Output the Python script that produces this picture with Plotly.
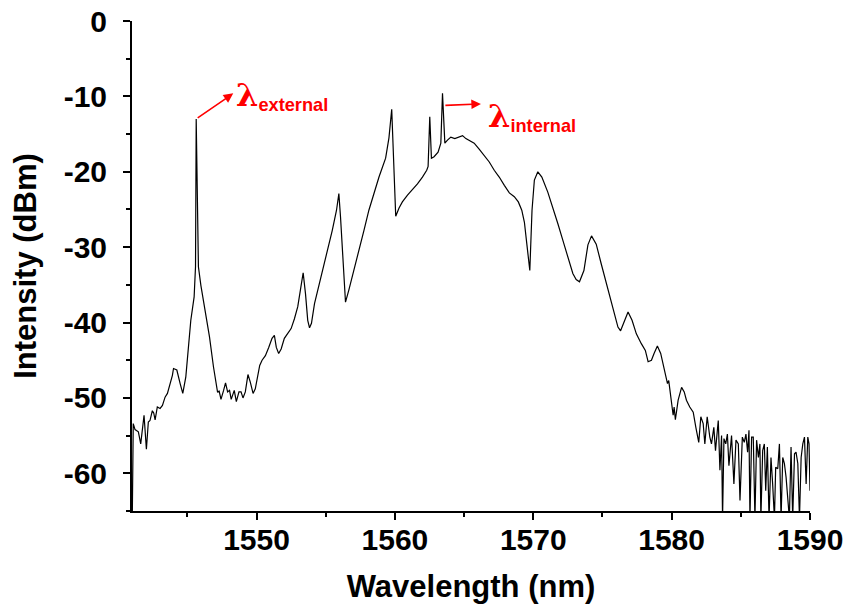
import plotly.graph_objects as go

# Measured optical spectrum: wavelength (nm) and intensity (dBm)
wavelength = [
    1541.02, 1541.09, 1541.22, 1541.46, 1541.63, 1541.87, 1542.04, 1542.18, 1542.30, 1542.47,
    1542.57, 1542.67, 1542.83, 1543.03, 1543.20, 1543.39, 1543.56, 1543.75, 1543.92, 1544.00,
    1544.24, 1544.48, 1544.67, 1544.89, 1545.08, 1545.25, 1545.49, 1545.59, 1545.64, 1545.80,
    1545.98, 1546.29, 1546.60, 1546.89, 1547.18, 1547.30, 1547.43, 1547.62, 1547.76, 1547.91,
    1548.05, 1548.17, 1548.39, 1548.54, 1548.73, 1548.88, 1549.02, 1549.19, 1549.38, 1549.55,
    1549.75, 1549.91, 1550.08, 1550.23, 1550.40, 1550.64, 1550.88, 1551.12, 1551.29, 1551.43,
    1551.60, 1551.78, 1552.01, 1552.25, 1552.50, 1552.74, 1552.98, 1553.17, 1553.37, 1553.54,
    1553.70, 1553.83, 1553.97, 1554.19, 1554.43, 1554.75, 1555.11, 1555.47, 1555.78, 1555.95,
    1556.07, 1556.27, 1556.43, 1556.67, 1557.04, 1557.40, 1557.76, 1558.12, 1558.37, 1558.85,
    1559.33, 1559.57, 1559.77, 1560.06, 1560.30, 1560.54, 1560.91, 1561.27, 1561.63, 1561.99,
    1562.30, 1562.40, 1562.52, 1562.64, 1562.83, 1563.12, 1563.32, 1563.44, 1563.61, 1563.80,
    1564.04, 1564.33, 1564.64, 1564.89, 1565.13, 1565.44, 1565.73, 1566.09, 1566.46, 1566.82,
    1567.18, 1567.54, 1567.91, 1568.27, 1568.63, 1568.92, 1569.17, 1569.36, 1569.53, 1569.75,
    1569.91, 1570.08, 1570.33, 1570.62, 1571.05, 1571.41, 1571.78, 1572.14, 1572.50, 1572.86,
    1573.10, 1573.34, 1573.66, 1573.95, 1574.21, 1574.55, 1574.91, 1575.35, 1575.76, 1576.12,
    1576.31, 1576.56, 1576.85, 1577.14, 1577.45, 1577.81, 1578.10, 1578.30, 1578.54, 1578.73,
    1578.97, 1579.21, 1579.50, 1579.70, 1579.79, 1579.93, 1580.11, 1580.18, 1580.27, 1580.47,
    1580.72, 1580.91, 1581.07, 1581.31, 1581.56, 1581.75, 1581.96, 1582.11, 1582.28, 1582.40,
    1582.57, 1582.76, 1582.88, 1583.05, 1583.17, 1583.37, 1583.49, 1583.61, 1583.68, 1583.78,
    1583.91, 1584.03, 1584.14, 1584.33, 1584.50, 1584.65, 1584.82, 1584.94, 1585.11, 1585.25,
    1585.37, 1585.49, 1585.59, 1585.66, 1585.78, 1585.90, 1586.02, 1586.14, 1586.27, 1586.38,
    1586.45, 1586.58, 1586.70, 1586.80, 1586.92, 1587.04, 1587.18, 1587.30, 1587.43, 1587.52,
    1587.67, 1587.79, 1587.91, 1588.03, 1588.15, 1588.27, 1588.39, 1588.51, 1588.63, 1588.75,
    1588.88, 1588.99, 1589.12, 1589.24, 1589.36, 1589.48, 1589.60, 1589.72, 1589.84, 1589.93,
    1590.00,
]

intensity = [
    -66.0, -53.4, -54.2, -54.5, -56.1, -52.3, -56.8, -53.2, -53.0, -51.7,
    -52.0, -52.9, -51.2, -51.4, -51.0, -49.9, -49.4, -48.3, -47.0, -46.1,
    -46.3, -48.1, -49.4, -47.2, -42.8, -39.7, -36.6, -32.6, -13.0, -32.6,
    -35.1, -38.4, -41.9, -45.9, -49.2, -49.1, -50.2, -49.0, -48.0, -49.2,
    -49.0, -50.2, -49.0, -50.5, -49.2, -49.2, -50.0, -49.2, -46.9, -47.9,
    -49.4, -48.8, -47.0, -45.7, -45.0, -44.4, -43.3, -42.1, -41.7, -43.3,
    -44.1, -43.5, -42.1, -41.5, -40.8, -39.5, -37.9, -35.7, -33.4, -36.2,
    -39.7, -40.7, -40.1, -37.5, -35.7, -33.1, -30.4, -27.8, -25.1, -22.9,
    -26.0, -32.6, -37.3, -35.7, -33.1, -30.4, -27.8, -25.1, -23.5, -20.7,
    -18.2, -15.5, -11.7, -25.9, -24.8, -24.0, -23.1, -22.4, -21.6, -20.7,
    -19.8, -19.3, -12.7, -18.2, -18.0, -17.4, -16.2, -9.6, -16.2, -15.8,
    -15.4, -15.6, -15.4, -15.2, -15.6, -15.9, -16.2, -17.0, -17.8, -18.7,
    -19.8, -20.7, -21.8, -22.8, -23.3, -24.0, -25.1, -26.7, -29.5, -33.1,
    -25.1, -21.1, -20.0, -20.7, -22.7, -24.7, -26.9, -29.1, -31.3, -33.5,
    -34.3, -34.6, -33.1, -29.7, -28.5, -29.6, -32.2, -35.3, -38.2, -40.6,
    -41.1, -39.9, -38.6, -39.7, -41.5, -42.8, -43.7, -45.2, -45.0, -44.1,
    -43.1, -44.1, -46.3, -48.1, -47.7, -49.9, -52.3, -51.2, -52.9, -50.3,
    -48.6, -49.2, -50.3, -51.2, -51.9, -53.9, -55.9, -52.5, -53.4, -56.1,
    -52.5, -55.2, -56.1, -53.9, -57.0, -53.0, -59.6, -55.0, -66.0, -55.4,
    -56.1, -54.8, -59.0, -55.0, -61.4, -55.6, -56.1, -63.6, -55.2, -55.9,
    -54.8, -57.2, -54.3, -66.0, -55.2, -55.2, -66.0, -55.6, -57.9, -56.1,
    -66.0, -57.0, -56.1, -62.3, -56.5, -66.0, -57.9, -61.4, -66.0, -59.2,
    -59.4, -56.1, -66.0, -57.9, -58.7, -60.5, -63.2, -66.0, -56.5, -66.0,
    -57.4, -57.2, -58.7, -66.0, -57.9, -56.1, -55.2, -61.4, -55.2, -56.1,
    -62.3,
]

# Axis tick labels
x_ticks = [1550, 1560, 1570, 1580, 1590]
y_ticks = [0, -10, -20, -30, -40, -50, -60]
y_tick_text = ["0", "-10", "-20", "-30", "-40", "-50", "-60"]

# Lasing lines marked on the spectrum
external_peak = (1545.64, -13.0)
internal_peak = (1563.44, -9.6)

FONT = "Liberation Sans, Arial, sans-serif"
RED = "#ff0000"

fig = go.Figure()
fig.add_trace(go.Scatter(
    x=wavelength, y=intensity, mode="lines",
    line=dict(color="black", width=1.2),
    showlegend=False, hoverinfo="skip",
))

axis_common = dict(
    showline=True, linecolor="black", linewidth=2,
    ticks="outside", ticklen=7, tickwidth=1.5, tickcolor="black",
    showgrid=False, zeroline=False, mirror=False,
)
tick_font = dict(family=FONT, size=30, color="black", weight="bold")
title_font = dict(family=FONT, size=31, color="black", weight="bold")

fig.update_xaxes(
    range=[1541, 1590], tickvals=x_ticks, ticktext=[str(v) for v in x_ticks],
    minor=dict(ticks="outside", ticklen=4, tickwidth=1.5, tickcolor="black", dtick=5, tick0=1540),
    tickfont=tick_font, ticklabelstandoff=-6,
    title=dict(text="Wavelength (nm)", font=title_font, standoff=20),
    automargin="height",
    **axis_common,
)
fig.update_yaxes(
    range=[-65, 0], tickvals=y_ticks, ticktext=y_tick_text,
    minor=dict(ticks="outside", ticklen=4, tickwidth=1.5, tickcolor="black", dtick=5, tick0=0),
    tickfont=tick_font, ticklabelstandoff=10,
    title=dict(text="Intensity (dBm)", font=title_font, standoff=18),
    automargin="width",
    **axis_common,
)

# Arrows pointing from each lasing line toward its label
fig.add_annotation(
    x=1548.32, y=-9.6, ax=external_peak[0], ay=external_peak[1],
    xref="x", yref="y", axref="x", ayref="y", text="",
    showarrow=True, arrowhead=2, arrowsize=1.2, arrowwidth=1.6, arrowcolor=RED,
)
fig.add_annotation(
    x=1566.22, y=-11.0, ax=internal_peak[0] + 0.1, ay=-11.2,
    xref="x", yref="y", axref="x", ayref="y", text="",
    showarrow=True, arrowhead=2, arrowsize=1.2, arrowwidth=1.6, arrowcolor=RED,
)

LAMBDA = '<span style="font-family:DejaVu Serif;font-size:32px;font-weight:bold">λ</span>'
fig.add_annotation(
    x=1548.35, y=-9.9, xref="x", yref="y", xanchor="left", yanchor="middle",
    text=LAMBDA + "<sub>external</sub>", showarrow=False,
    font=dict(family=FONT, size=26, color=RED, weight="bold"),
)
fig.add_annotation(
    x=1566.55, y=-12.7, xref="x", yref="y", xanchor="left", yanchor="middle",
    text=LAMBDA + "<sub>internal</sub>", showarrow=False,
    font=dict(family=FONT, size=26, color=RED, weight="bold"),
)

fig.update_layout(
    width=845, height=611,
    margin=dict(l=132, r=35, t=21, b=100),
    paper_bgcolor="white", plot_bgcolor="white",
    font=dict(family=FONT, color="black"),
)

fig.write_html("out.html")
